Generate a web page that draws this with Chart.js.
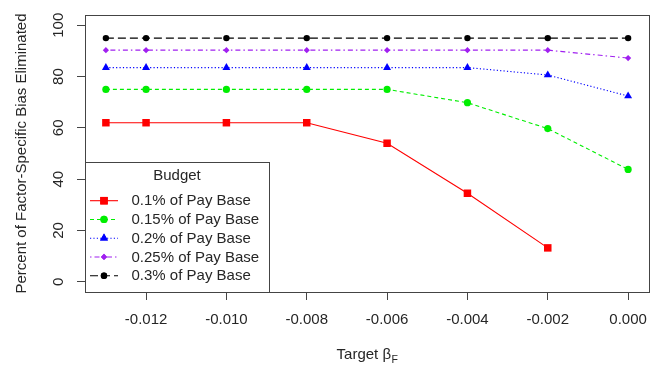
<!DOCTYPE html>
<html>
<head>
<meta charset="utf-8">
<script src="https://cdn.jsdelivr.net/npm/chart.js@4"></script>
<style>
  html, body { margin: 0; padding: 0; background: #ffffff; }
  #wrap { width: 660px; height: 369px; position: relative; }
</style>
</head>
<body>
<div id="wrap"><canvas id="c"></canvas></div>
<script>
// Target beta values (x) and percent of bias eliminated for each budget level
const targetBeta = [-0.013, -0.012, -0.010, -0.008, -0.006, -0.004, -0.002, 0.000];
const budget010 = [62, 62, 62, 62, 54, 34.5, 13.2, null];
const budget015 = [75, 75, 75, 75, 75, 69.8, 59.7, 43.8];
const budget020 = [83.5, 83.5, 83.5, 83.5, 83.5, 83.5, 80.6, 72.4];
const budget025 = [90.3, 90.3, 90.3, 90.3, 90.3, 90.3, 90.3, 87.2];
const budget030 = [95, 95, 95, 95, 95, 95, 95, 95];
const seriesLabels = ['0.1% of Pay Base', '0.15% of Pay Base', '0.2% of Pay Base', '0.25% of Pay Base', '0.3% of Pay Base'];
const legendTitle = 'Budget';
const xTicks = [-0.012, -0.010, -0.008, -0.006, -0.004, -0.002, 0.000];
const yTicks = [0, 20, 40, 60, 80, 100];
const xTitle = 'Target \u03B2';
const xTitleSub = 'F';
const yTitle = 'Percent of Factor-Specific Bias Eliminated';

const FONT = '"Liberation Sans", Arial, Helvetica, sans-serif';
const INK = '#262626';
const FRAME = '#444444';

const seriesValues = [budget010, budget015, budget020, budget025, budget030];
const seriesStyle = [
  { color: '#FF0000', dash: [], point: 'rect', radius: 5.3 },
  { color: '#00EE00', dash: [4, 3], point: 'circle', radius: 3.6 },
  { color: '#0000FF', dash: [1.2, 2.2], point: 'triangle', radius: 4.6 },
  { color: '#A020F0', dash: [1.5, 3, 5, 3], point: 'rectRot', radius: 3.1 },
  { color: '#000000', dash: [8, 4], point: 'circle', radius: 3.2 }
];

const datasets = seriesValues.map((vals, i) => {
  const s = seriesStyle[i];
  return {
    label: seriesLabels[i],
    data: targetBeta.map((x, j) => ({ x: x, y: vals[j] })),
    borderColor: s.color,
    backgroundColor: s.color,
    borderWidth: 1.1,
    borderDash: s.dash,
    pointStyle: s.point,
    pointRadius: s.radius,
    pointHoverRadius: s.radius,
    pointBorderWidth: 0,
    pointBackgroundColor: s.color,
    tension: 0,
    spanGaps: false,
    clip: false
  };
});

// Frame, axis titles and the in-plot legend
const decorations = {
  id: 'decorations',
  afterDraw(chart) {
    const ctx = chart.ctx;
    const a = chart.chartArea;
    ctx.save();

    // plot frame
    ctx.strokeStyle = FRAME;
    ctx.lineWidth = 1;
    ctx.setLineDash([]);
    ctx.strokeRect(Math.round(a.left) + 0.5, Math.round(a.top) + 0.5,
                   Math.round(a.right - a.left), Math.round(a.bottom - a.top));

    // x axis title with subscript
    ctx.fillStyle = INK;
    ctx.textBaseline = 'alphabetic';
    ctx.font = '15px ' + FONT;
    const mainW = ctx.measureText(xTitle).width;
    ctx.font = '10.5px ' + FONT;
    const subW = ctx.measureText(xTitleSub).width;
    const cx = (a.left + a.right) / 2;
    const startX = cx - (mainW + subW) / 2;
    ctx.font = '15px ' + FONT;
    ctx.textAlign = 'left';
    ctx.fillText(xTitle, startX, 359);
    ctx.font = '10.5px ' + FONT;
    ctx.fillText(xTitleSub, startX + mainW + 0.5, 362.5);

    // y axis title
    ctx.save();
    ctx.translate(25.5, (a.top + a.bottom) / 2);
    ctx.rotate(-Math.PI / 2);
    ctx.font = '15px ' + FONT;
    ctx.textAlign = 'center';
    ctx.fillText(yTitle, 0, 0);
    ctx.restore();

    // legend
    const lx = Math.round(a.left), lr = 269, lt = 162, lb = Math.round(a.bottom);
    ctx.fillStyle = '#ffffff';
    ctx.fillRect(lx, lt, lr - lx, lb - lt);
    ctx.strokeStyle = FRAME;
    ctx.lineWidth = 1;
    ctx.strokeRect(lx + 0.5, lt + 0.5, lr - lx, lb - lt);

    ctx.fillStyle = INK;
    ctx.font = '15px ' + FONT;
    ctx.textAlign = 'center';
    ctx.textBaseline = 'middle';
    ctx.fillText(legendTitle, (lx + lr) / 2, lt + 13.5);

    chart.data.datasets.forEach((ds, i) => {
      const y = lt + 38.7 + i * 18.75;
      ctx.strokeStyle = ds.borderColor;
      ctx.lineWidth = ds.borderWidth;
      ctx.setLineDash(ds.borderDash);
      ctx.beginPath();
      ctx.moveTo(lx + 5, y);
      ctx.lineTo(lx + 33, y);
      ctx.stroke();
      ctx.setLineDash([]);
      ctx.fillStyle = ds.pointBackgroundColor;
      Chart.helpers.drawPoint(ctx, {
        pointStyle: ds.pointStyle,
        radius: ds.pointRadius,
        borderWidth: 0,
        rotation: 0
      }, lx + 19, y);
      ctx.fill();
      ctx.fillStyle = INK;
      ctx.textAlign = 'left';
      ctx.font = '15px ' + FONT;
      ctx.fillText(ds.label, lx + 46.5, y + 0.5);
    });

    ctx.restore();
  }
};

new Chart(document.getElementById('c'), {
  type: 'line',
  data: { datasets: datasets },
  options: {
    responsive: true,
    maintainAspectRatio: false,
    animation: false,
    events: [],
    layout: { padding: { left: 0, top: 8, right: 11, bottom: 0 } },
    plugins: {
      legend: { display: false },
      tooltip: { enabled: false },
      title: { display: false }
    },
    scales: {
      x: {
        type: 'linear',
        min: -0.01352,
        max: 0.00052,
        afterBuildTicks: (scale) => { scale.ticks = xTicks.map(v => ({ value: v })); },
        afterFit: (scale) => { scale.height = 77; },
        grid: { display: true, drawOnChartArea: false, drawTicks: true, tickLength: 8, color: FRAME, lineWidth: 1 },
        border: { display: false },
        ticks: {
          padding: 11,
          color: INK,
          font: { family: FONT, size: 15 },
          maxRotation: 0,
          minRotation: 0,
          autoSkip: false,
          callback: (v) => Number(v).toFixed(3)
        }
      },
      y: {
        type: 'linear',
        min: -4,
        max: 104,
        afterBuildTicks: (scale) => { scale.ticks = yTicks.map(v => ({ value: v })); },
        afterFit: (scale) => { scale.width = 85; },
        grid: { display: true, drawOnChartArea: false, drawTicks: true, tickLength: 8, color: FRAME, lineWidth: 1 },
        border: { display: false },
        ticks: {
          padding: 6,
          color: INK,
          font: { family: FONT, size: 15 },
          minRotation: 90,
          maxRotation: 90,
          crossAlign: 'center',
          autoSkip: false,
          callback: (v) => String(v)
        }
      }
    }
  },
  plugins: [decorations]
});
</script>
</body>
</html>
